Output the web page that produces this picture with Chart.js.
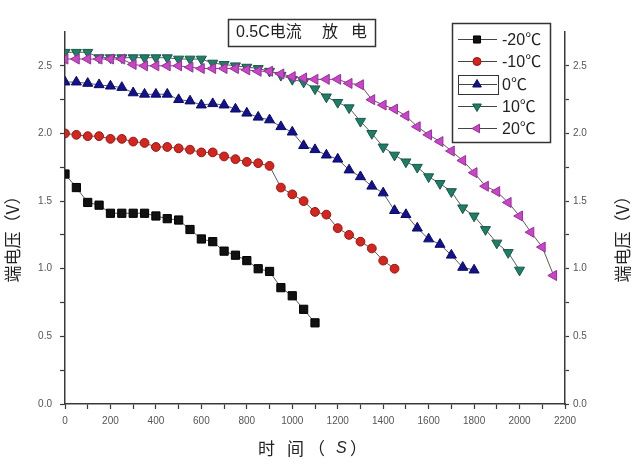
<!DOCTYPE html>
<html lang="zh">
<head>
<meta charset="UTF-8">
<title>0.5C电流 放电</title>
<script src="https://cdn.jsdelivr.net/npm/chart.js@4.4.0/dist/chart.umd.min.js"></script>
<style>
  html, body { margin: 0; padding: 0; background: #fff; }
</style>
</head>
<body>
<canvas id="canvas" width="640" height="473"></canvas>
<script>
// time (s), one marker every 50 s
const time = [0, 50, 100, 150, 200, 250, 300, 350, 400, 450, 500, 550, 600, 650, 700, 750,
  800, 850, 900, 950, 1000, 1050, 1100, 1150, 1200, 1250, 1300, 1350, 1400, 1450, 1500,
  1550, 1600, 1650, 1700, 1750, 1800, 1850, 1900, 1950, 2000, 2050, 2100, 2150];

// terminal voltage (V) per temperature
const vMinus20 = [1.70, 1.60, 1.49, 1.47, 1.41, 1.41, 1.41, 1.41, 1.39, 1.37, 1.36, 1.29,
  1.22, 1.20, 1.13, 1.10, 1.06, 1.00, 0.98, 0.86, 0.80, 0.70, 0.60];
const vMinus10 = [2.00, 1.99, 1.98, 1.98, 1.96, 1.96, 1.94, 1.93, 1.90, 1.90, 1.89, 1.88,
  1.86, 1.86, 1.83, 1.81, 1.79, 1.78, 1.76, 1.60, 1.55, 1.50, 1.42, 1.40, 1.30, 1.25,
  1.20, 1.15, 1.06, 1.00];
const v0 = [2.38, 2.38, 2.37, 2.36, 2.35, 2.34, 2.30, 2.29, 2.29, 2.29, 2.25, 2.24, 2.21,
  2.22, 2.21, 2.18, 2.15, 2.12, 2.10, 2.05, 2.01, 1.91, 1.88, 1.84, 1.81, 1.73, 1.68,
  1.61, 1.56, 1.43, 1.40, 1.30, 1.22, 1.18, 1.10, 1.01, 0.99];
const v10 = [2.60, 2.60, 2.60, 2.56, 2.56, 2.56, 2.56, 2.56, 2.56, 2.56, 2.55, 2.55, 2.55,
  2.52, 2.51, 2.50, 2.49, 2.48, 2.46, 2.43, 2.40, 2.38, 2.33, 2.27, 2.23, 2.19, 2.09,
  2.00, 1.90, 1.84, 1.79, 1.75, 1.68, 1.63, 1.57, 1.45, 1.39, 1.29, 1.19, 1.12, 0.99];
const v20 = [2.55, 2.55, 2.55, 2.55, 2.55, 2.55, 2.51, 2.50, 2.50, 2.50, 2.50, 2.49, 2.48,
  2.48, 2.48, 2.48, 2.47, 2.46, 2.46, 2.44, 2.42, 2.41, 2.40, 2.40, 2.40, 2.37, 2.36,
  2.25, 2.21, 2.18, 2.13, 2.05, 1.99, 1.94, 1.87, 1.80, 1.71, 1.61, 1.57, 1.49, 1.39,
  1.27, 1.16, 0.95];

const seriesNames = ['-20℃', '-10℃', '0℃', '10℃', '20℃'];
const xTickLabels = [0, 200, 400, 600, 800, 1000, 1200, 1400, 1600, 1800, 2000, 2200];
const yTickLabels = [0, 0.5, 1.0, 1.5, 2.0, 2.5];

const FONT = '"Liberation Sans", Arial, "Noto Sans CJK SC", sans-serif';
const CJK = '"Noto Sans CJK SC", sans-serif';

function pts(v) {
    return v.map((y, i) => ({ x: time[i], y: y }));
}

function series(label, v, style, rot, radius, fill, edge, order) {
    return {
        label: label,
        data: pts(v),
        borderColor: '#5a5a5a',
        borderWidth: 1,
        tension: 0,
        pointStyle: style,
        rotation: rot,
        pointRotation: rot,
        pointRadius: radius,
        pointBackgroundColor: fill,
        pointBorderColor: edge,
        pointBorderWidth: 1,
        order: order
    };
}

const datasets = [
    series(seriesNames[0], vMinus20, 'rect', 0, 5.8, '#111111', '#000000', 4),
    series(seriesNames[1], vMinus10, 'circle', 0, 4.4, '#d2261e', '#9a1410', 3),
    series(seriesNames[2], v0, 'triangle', 0, 5.8, '#12128c', '#0a0a66', 2),
    series(seriesNames[3], v10, 'triangle', 180, 5.8, '#1f7d68', '#155846', 1),
    series(seriesNames[4], v20, 'triangle', -90, 5.8, '#c944c9', '#9a2f9a', 0)
];

function drawMarker(ctx, ds, x, y, r) {
    ctx.fillStyle = ds.pointBackgroundColor;
    ctx.strokeStyle = ds.pointBorderColor;
    ctx.lineWidth = 1;
    Chart.helpers.drawPoint(ctx, {
        pointStyle: ds.pointStyle,
        rotation: ds.pointRotation,
        radius: r,
        borderWidth: 1
    }, x, y);
}

// title box, legend and axis titles
const overlay = {
    id: 'overlay',
    afterDraw(chart) {
        const ctx = chart.ctx;
        ctx.save();

        // title box
        ctx.fillStyle = '#fff';
        ctx.fillRect(228, 19, 147, 27);
        ctx.strokeStyle = '#333';
        ctx.lineWidth = 1.5;
        ctx.strokeRect(228.5, 19.5, 147, 27);
        ctx.fillStyle = '#222';
        ctx.textBaseline = 'middle';
        ctx.textAlign = 'left';
        ctx.font = '16px ' + FONT;
        ctx.fillText('0.5C电流', 236, 33);
        ctx.fillText('放', 322, 33);
        ctx.fillText('电', 351, 33);

        // legend box
        ctx.fillStyle = '#fff';
        ctx.fillRect(452, 23, 98, 119);
        ctx.strokeStyle = '#333';
        ctx.lineWidth = 1.5;
        ctx.strokeRect(452.5, 23.5, 98, 119);
        chart.data.datasets.forEach((ds, i) => {
            const y = Math.round(39 + i * 22.3) + 0.5;
            if (i === 2) {
                ctx.strokeStyle = '#333';
                ctx.lineWidth = 1;
                ctx.strokeRect(458.5, y - 9, 40, 19);
            }
            ctx.strokeStyle = '#444';
            ctx.lineWidth = 1;
            ctx.beginPath();
            ctx.moveTo(458, y);
            ctx.lineTo(497, y);
            ctx.stroke();
            drawMarker(ctx, ds, 477, y, ds.pointStyle === 'circle' ? 4 : 5);
            ctx.fillStyle = '#222';
            ctx.font = '16px ' + FONT;
            ctx.textAlign = 'left';
            ctx.fillText(ds.label, 502, y + 1);
        });

        // y titles (both read bottom to top)
        ctx.font = '17px ' + CJK;
        ctx.fillStyle = '#222';
        ctx.textAlign = 'center';
        [13, 623].forEach(x => {
            ctx.save();
            ctx.translate(x, 235);
            ctx.rotate(-Math.PI / 2);
            ctx.fillText('端电压（V）', 0, 0);
            ctx.restore();
        });

        // x title
        ctx.textAlign = 'left';
        ctx.font = '17px ' + CJK;
        ctx.fillText('时', 258, 449);
        ctx.fillText('间', 287, 449);
        ctx.fillText('（', 308, 449);
        ctx.fillText('）', 350, 449);
        ctx.font = 'italic 16px ' + FONT;
        ctx.fillText('S', 336, 449);

        ctx.restore();
    }
};

const axisColor = '#3a3a3a';
const tickFont = { size: 10, family: FONT };

new Chart(document.getElementById('canvas').getContext('2d'), {
    type: 'line',
    data: { datasets: datasets },
    plugins: [overlay],
    options: {
        responsive: false,
        animation: false,
        events: [],
        layout: { padding: { top: 32, left: 0, right: 0, bottom: 0 } },
        plugins: {
            legend: { display: false },
            tooltip: { enabled: false },
            title: { display: false }
        },
        scales: {
            x: {
                type: 'linear',
                position: 'bottom',
                min: 0,
                max: 2200,
                ticks: {
                    stepSize: 100,
                    autoSkip: false,
                    maxRotation: 0,
                    color: '#555',
                    font: tickFont,
                    padding: 6,
                    callback: v => xTickLabels.includes(v) ? String(v) : ''
                },
                grid: { drawOnChartArea: false, drawTicks: true, tickLength: 5, tickColor: axisColor, tickWidth: 1.2 },
                border: { display: true, color: axisColor, width: 1.5 },
                afterFit: s => { s.height = 69; }
            },
            y: {
                position: 'left',
                min: 0,
                max: 2.75,
                ticks: {
                    stepSize: 0.25,
                    autoSkip: false,
                    color: '#555',
                    font: tickFont,
                    padding: 8,
                    callback: v => yTickLabels.includes(v) ? v.toFixed(1) : ''
                },
                grid: {
                    drawOnChartArea: false, drawTicks: true, tickLength: 5, tickWidth: 1.2,
                    tickColor: c => c.tick && c.tick.value > 2.6 ? 'rgba(0,0,0,0)' : axisColor
                },
                border: { display: true, color: axisColor, width: 1.5 },
                afterFit: s => { s.width = 65; }
            },
            y2: {
                position: 'right',
                min: 0,
                max: 2.75,
                ticks: {
                    stepSize: 0.25,
                    autoSkip: false,
                    color: '#555',
                    font: tickFont,
                    padding: 4,
                    callback: v => yTickLabels.includes(v) ? v.toFixed(1) : ''
                },
                grid: {
                    drawOnChartArea: false, drawTicks: true, tickLength: 4, tickWidth: 1.2,
                    tickColor: c => c.tick && c.tick.value > 2.6 ? 'rgba(0,0,0,0)' : axisColor
                },
                border: { display: true, color: axisColor, width: 1.5 },
                afterFit: s => { s.width = 75; }
            }
        }
    }
});
</script>
</body>
</html>
